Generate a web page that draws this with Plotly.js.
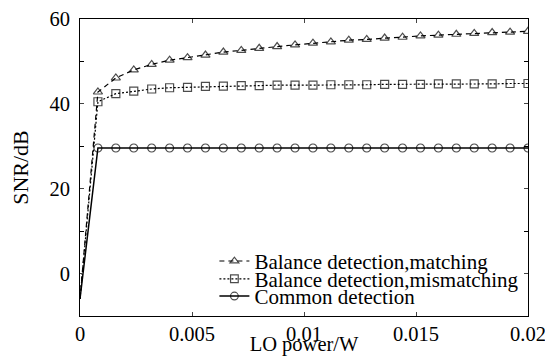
<!DOCTYPE html>
<html>
<head>
<meta charset="utf-8">
<script src="https://cdn.plot.ly/plotly-3.0.1.min.js"></script>
<style>html,body{margin:0;padding:0;background:#fff;}#chart{width:545px;height:356px;}</style>
</head>
<body>
<div id="chart"></div>
<script>
const loPower = [0, 0.0008, 0.0016, 0.0024, 0.0032, 0.004, 0.0048, 0.0056, 0.0064, 0.0072, 0.008, 0.0088, 0.0096, 0.0104, 0.0112, 0.012, 0.0128, 0.0136, 0.0144, 0.0152, 0.016, 0.0168, 0.0176, 0.0184, 0.0192, 0.02];
const balanceMatching = [-6, 42.8, 46.1, 48.0, 49.3, 50.3, 50.9, 51.5, 52.2, 52.6, 53.1, 53.5, 53.9, 54.3, 54.6, 55.0, 55.2, 55.5, 55.7, 56.0, 56.2, 56.4, 56.6, 56.8, 56.9, 57.1];
const balanceMismatching = [-6, 40.5, 42.4, 43.0, 43.5, 43.8, 43.9, 44.1, 44.2, 44.3, 44.3, 44.4, 44.4, 44.4, 44.5, 44.5, 44.5, 44.6, 44.6, 44.6, 44.7, 44.7, 44.7, 44.7, 44.8, 44.8];
const commonDetection = [-6, 29.6, 29.6, 29.6, 29.6, 29.6, 29.6, 29.6, 29.6, 29.6, 29.6, 29.6, 29.6, 29.6, 29.6, 29.6, 29.6, 29.6, 29.6, 29.6, 29.6, 29.6, 29.6, 29.6, 29.6, 29.6];
const seriesNames = ["Balance detection,matching", "Balance detection,mismatching", "Common detection"];

const FAMILY = '"Liberation Serif", "Times New Roman", Times, serif';
const font = {family: FAMILY, size: 20.5, color: "#000"};
// no marker drawn on the starting point at the origin
const sizes = loPower.map((v, i) => (i === 0 ? 0 : 8));
const mk = (sym) => ({symbol: sym, size: sizes, color: "#000", line: {color: "#000", width: 1.2}});

const traces = [
  {x: loPower, y: balanceMatching, name: seriesNames[0], mode: "lines+markers", legend: "legend",
   line: {color: "#000", width: 1.2, dash: "5px,4px"}, marker: mk("triangle-up-open")},
  {x: loPower, y: balanceMismatching, name: seriesNames[1], mode: "lines+markers", legend: "legend2",
   line: {color: "#000", width: 1.2, dash: "2px,2px"}, marker: mk("square-open")},
  {x: loPower, y: commonDetection, name: seriesNames[2], mode: "lines+markers", legend: "legend3",
   line: {color: "#000", width: 1.5, dash: "solid"}, marker: mk("circle-open")}
];

const leg = (yc) => ({x: 0.3, y: yc, xanchor: "left", yanchor: "middle", bgcolor: "rgba(0,0,0,0)",
  font: {family: FAMILY, size: 21, color: "#000"}, itemwidth: 30, borderwidth: 0});

const layout = {
  width: 545, height: 356,
  margin: {l: 80, r: 17, t: 19, b: 40},
  paper_bgcolor: "#fff", plot_bgcolor: "#fff",
  font: font,
  showlegend: true,
  legend: leg(0.184),
  legend2: leg(0.124),
  legend3: leg(0.066),
  xaxis: {
    range: [0, 0.02], dtick: 0.005, tick0: 0, ticks: "inside", ticklen: 4,
    showline: true, linecolor: "#000", linewidth: 1, mirror: "ticks",
    showgrid: false, zeroline: false, tickfont: font, ticklabelstandoff: -1,
    ticklabeloverflow: "allow", automargin: false,
    title: {text: "LO power/W", font: font, standoff: 1}
  },
  yaxis: {
    range: [-10, 60], dtick: 20, tick0: 0, ticks: "inside", ticklen: 4,
    minor: {dtick: 10, tick0: 0, ticks: "inside", ticklen: 4, tickcolor: "#000", showgrid: false},
    showline: true, linecolor: "#000", linewidth: 1, mirror: "ticks",
    showgrid: false, zeroline: false, tickfont: font, ticklabelstandoff: 5,
    automargin: false,
    title: {text: "SNR/dB", font: {family: FAMILY, size: 22, color: "#000"}, standoff: 14}
  }
};

Plotly.newPlot("chart", traces, layout, {staticPlot: true});
</script>
</body>
</html>
